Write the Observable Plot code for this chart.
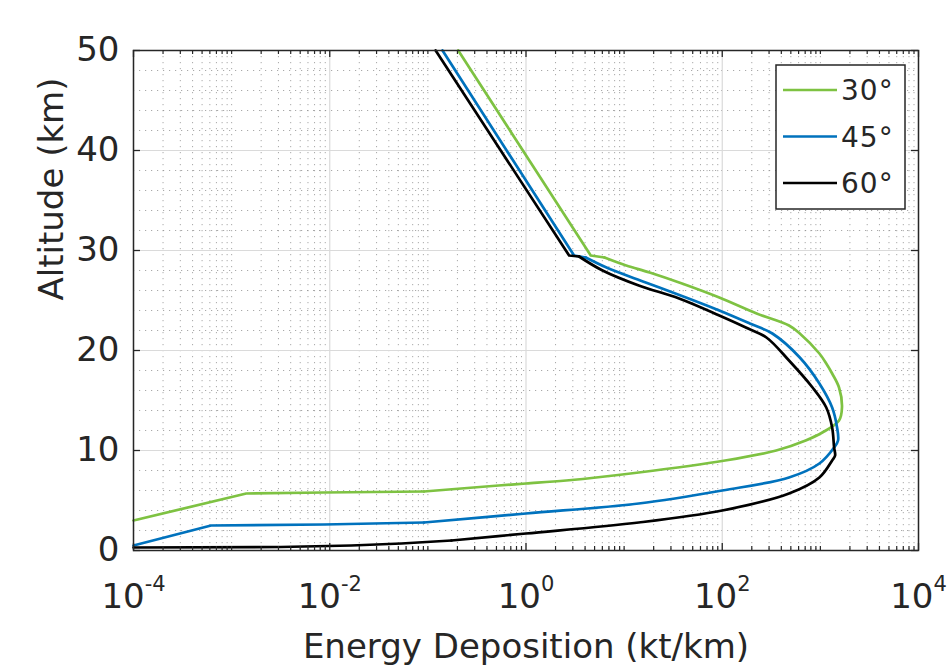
<!DOCTYPE html>
<html><head><meta charset="utf-8">
<script src="https://cdn.jsdelivr.net/npm/d3@7"></script>
<script src="https://cdn.jsdelivr.net/npm/@observablehq/plot@0.6"></script>
<style>
html,body{margin:0;padding:0;background:#fff;}
#chart{position:relative;width:947px;height:669px;}
</style></head><body><div id="chart"></div>
<script>
// ---- data (energy deposition in kt/km vs altitude in km) ----
const seriesNames = ["30°", "45°", "60°"];

const alt30 = [50, 29.5, 29.3, 28.5, 27.8, 26.7, 25.3, 23.7, 22.5, 21.7, 19.7, 18.7, 17.7, 16.3, 14.3, 13.0, 11.8, 11.0, 10.0, 9.0, 7.8, 7.0, 6.7, 6.5, 5.9, 5.8, 5.7, 3.0];
const dep30 = [0.204, 4.57, 6.31, 10.5, 18.2, 38.9, 93.3, 224, 479, 617, 977, 1148, 1318, 1549, 1660, 1549, 1047, 708, 355, 107, 14.1, 2.57, 1.0, 0.525, 0.0912, 0.00871, 0.00141, 0.0001];

const alt45 = [50, 29.5, 29.3, 28.3, 26.8, 25.3, 24.0, 22.7, 21.7, 19.3, 16.7, 14.3, 12.3, 11.0, 10.3, 8.7, 7.3, 6.0, 4.7, 3.7, 2.8, 2.6, 2.5, 0.5];
const dep45 = [0.141, 3.09, 4.07, 6.61, 16.6, 42.7, 93.3, 191, 324, 617, 977, 1318, 1479, 1514, 1380, 977, 479, 100, 14.1, 1.0, 0.0912, 0.00871, 0.000617, 0.0001];

const alt60 = [50, 29.5, 29.4, 28.0, 26.5, 25.2, 23.5, 22.3, 21.3, 19.0, 16.3, 14.3, 12.3, 10.3, 9.5, 9.0, 7.3, 5.7, 4.0, 2.8, 1.7, 1.0, 0.7, 0.5, 0.35, 0.3];
const dep60 = [0.120, 2.75, 3.47, 6.03, 14.1, 36.3, 93.3, 174, 282, 479, 832, 1148, 1318, 1380, 1413, 1318, 977, 479, 100, 14.1, 1.0, 0.174, 0.0537, 0.0166, 0.00316, 0.0001];

const xLabelTicks = [1e-4, 1e-2, 1e0, 1e2, 1e4];
const yTicks = [0, 10, 20, 30, 40, 50];
const xTitle = "Energy Deposition (kt/km)";
const yTitle = "Altitude (km)";

// ---- styles ----
const lineColors = ["#7ec242", "#0072bd", "#000000"];
const axisColor = "#262626";
const FONT = "DejaVu Sans";
// altitudes where the plotted curve changes from straight pieces to the smooth middle part
const upperBreak = [29.3, 29.3, 29.4];
const lowerBreak = [5.9, 2.8, 1.0];

// ---- build tables ----
const alts = [alt30, alt45, alt60];
const deps = [dep30, dep45, dep60];
const topRows = [], midRows = [], lowRows = [];
seriesNames.forEach((s, i) => alts[i].forEach((a, j) => {
  const r = {series: s, alt: a, dep: deps[i][j]};
  if (a >= upperBreak[i]) topRows.push(r);
  if (a <= upperBreak[i] && a >= lowerBreak[i]) midRows.push(r);
  if (a <= lowerBreak[i]) lowRows.push(r);
}));

// minor tick / grid positions
const xMinor = [];
for (let n = -4; n < 4; n++) for (let k = 1; k <= 9; k++) {
  const v = k * Math.pow(10, n);
  if (!xLabelTicks.some(t => Math.abs(Math.log10(t) - Math.log10(v)) < 1e-9)) xMinor.push(v);
}
const yMinor = d3.range(0, 51, 2).filter(v => v % 10 !== 0);

const W = 947, H = 669, mL = 133, mR = 29, mT = 50, mB = 119;
const fw = W - mL - mR, fh = H - mT - mB;
const lineOpts = {x: "dep", y: "alt", z: "series", stroke: "series", strokeWidth: 2.7};

const plot = Plot.plot({
  width: W, height: H,
  marginLeft: mL, marginRight: mR, marginTop: mT, marginBottom: mB,
  style: {fontFamily: FONT, background: "white", color: axisColor, overflow: "visible"},
  x: {type: "log", domain: [1e-4, 1e4]},
  y: {domain: [0, 50]},
  color: {domain: seriesNames, range: lineColors},
  marks: [
    // grid
    Plot.ruleX(xMinor, {x: d => d, stroke: "#8c8c8c", strokeOpacity: 0.75, strokeWidth: 1, strokeDasharray: "1.2,4.8"}),
    Plot.ruleY(yMinor, {y: d => d, stroke: "#8c8c8c", strokeOpacity: 0.75, strokeWidth: 1, strokeDasharray: "1.2,4.8"}),
    Plot.ruleX(xLabelTicks, {x: d => d, stroke: "#dadada", strokeWidth: 1.2}),
    Plot.ruleY(yTicks, {y: d => d, stroke: "#dadada", strokeWidth: 1.2}),
    // curves
    Plot.line(topRows, {...lineOpts, curve: "linear"}),
    Plot.line(midRows, {...lineOpts, curve: "catmull-rom"}),
    Plot.line(lowRows, {...lineOpts, curve: "linear"}),
    // inward ticks (box on all sides)
    Plot.ruleX(xLabelTicks, {x: d => d, insetTop: fh - 7, stroke: axisColor, strokeWidth: 1.3}),
    Plot.ruleX(xLabelTicks, {x: d => d, insetBottom: fh - 7, stroke: axisColor, strokeWidth: 1.3}),
    Plot.ruleX(xMinor, {x: d => d, insetTop: fh - 4, stroke: axisColor, strokeWidth: 1.2}),
    Plot.ruleX(xMinor, {x: d => d, insetBottom: fh - 4, stroke: axisColor, strokeWidth: 1.2}),
    Plot.ruleY(yTicks, {y: d => d, insetRight: fw - 7, stroke: axisColor, strokeWidth: 1.3}),
    Plot.ruleY(yTicks, {y: d => d, insetLeft: fw - 7, stroke: axisColor, strokeWidth: 1.3}),
    Plot.frame({stroke: axisColor, strokeWidth: 1.5}),
    // tick labels
    Plot.axisX(xLabelTicks, {anchor: "bottom", tickSize: 0, tickPadding: 33, fontSize: 34, label: null,
      tickFormat: d => "10|" + Math.round(Math.log10(d))}),
    Plot.axisY(yTicks, {anchor: "left", tickSize: 0, tickPadding: 14, fontSize: 34, label: null}),
    // titles
    Plot.text([xTitle], {text: d => d, frameAnchor: "bottom", lineAnchor: "bottom", dy: 107, fontSize: 34, fill: axisColor}),
    Plot.text([yTitle], {text: d => d, frameAnchor: "left", lineAnchor: "bottom", rotate: -90, dx: -71, fontSize: 34, fill: axisColor})
  ]
});

// superscript exponents on x tick labels
d3.select(plot).selectAll("text").each(function() {
  const t = this.textContent;
  const m = /^10\|(-?\d+)$/.exec(t);
  if (m) {
    const sel = d3.select(this);
    sel.text("10");
    sel.append("tspan").attr("dy", "-17").attr("font-size", "21").text(m[1]);
  }
});

// legend inside axes (top right)
const svg = d3.select(plot);
const lg = svg.append("g").attr("font-family", FONT).attr("text-anchor", "start");
lg.append("rect").attr("x", 776).attr("y", 65).attr("width", 129).attr("height", 144)
  .attr("fill", "white").attr("stroke", axisColor).attr("stroke-width", 1.5);
seriesNames.forEach((s, i) => {
  const cy = 90 + i * 46.5;
  lg.append("line").attr("x1", 783).attr("x2", 837).attr("y1", cy).attr("y2", cy)
    .attr("stroke", lineColors[i]).attr("stroke-width", 2.7);
  lg.append("text").attr("x", 841).attr("y", cy).attr("dy", "0.36em").attr("text-anchor", "start")
    .attr("font-size", 28).attr("letter-spacing", 1).attr("fill", axisColor).text(s);
});

document.getElementById("chart").appendChild(plot);
</script></body></html>
